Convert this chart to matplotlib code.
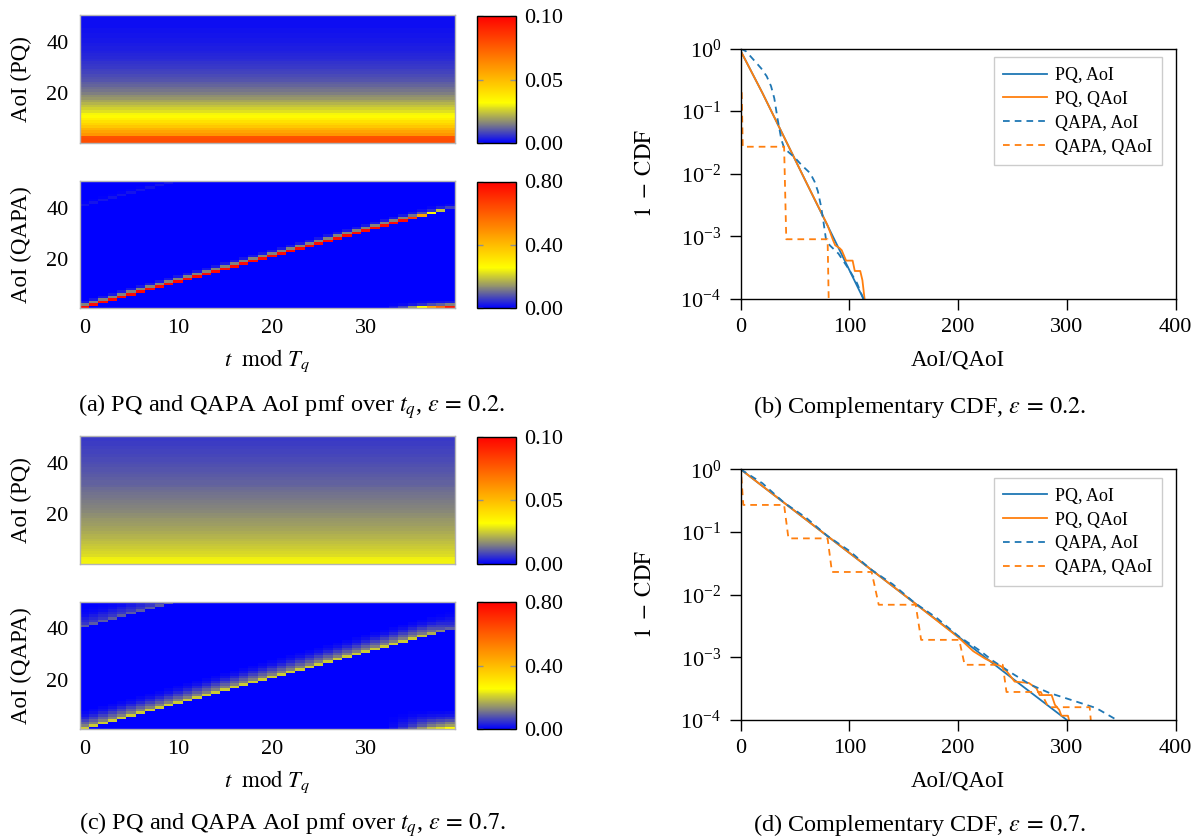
import numpy as np
import matplotlib
matplotlib.use('Agg')
import matplotlib.pyplot as plt
from matplotlib.colors import LinearSegmentedColormap
from matplotlib.ticker import FixedLocator, NullLocator, FuncFormatter

plt.rcParams['font.family'] = ['Liberation Serif', 'DejaVu Serif']
plt.rcParams['mathtext.fontset'] = 'stix'

# ---------------- data ----------------
tq = np.arange(40)          # t mod T_q
aoi = np.arange(1, 51)      # AoI values

# PQ AoI pmf (same for every t_q)
pq_pmf_eps02 = [0.079, 0.079, 0.078, 0.060, 0.056, 0.052, 0.047, 0.043, 0.040, 0.036,
                0.033, 0.031, 0.028, 0.026, 0.024, 0.022, 0.020, 0.018, 0.017, 0.015,
                0.014, 0.013, 0.012, 0.011, 0.010, 0.0095, 0.0088, 0.0081, 0.0075, 0.0069,
                0.0064, 0.0059, 0.0054, 0.0050, 0.0046, 0.0042, 0.0039, 0.0036, 0.0033, 0.0031,
                0.0028, 0.0026, 0.0024, 0.0022, 0.0020, 0.0019, 0.0017, 0.0016, 0.0015, 0.0014]
pq_pmf_eps07 = [0.0305, 0.0303, 0.0300, 0.0275, 0.0267, 0.0259, 0.0251, 0.0244, 0.0236, 0.0229,
                0.0222, 0.0216, 0.0209, 0.0203, 0.0197, 0.0191, 0.0185, 0.0180, 0.0174, 0.0169,
                0.0164, 0.0159, 0.0154, 0.0150, 0.0145, 0.0141, 0.0137, 0.0133, 0.0129, 0.0125,
                0.0121, 0.0117, 0.0114, 0.0110, 0.0107, 0.0104, 0.0101, 0.0098, 0.0095, 0.0092,
                0.0089, 0.0086, 0.0084, 0.0081, 0.0079, 0.0077, 0.0074, 0.0072, 0.0070, 0.0068]

# QAPA AoI pmf: peak on the diagonal (AoI = t_q + 1), its upward tail,
# the wrapped peak at the top (AoI = t_q + 41) and the new peak at AoI = 1
qapa_peak_eps02 = [0.78, 0.78, 0.78, 0.78, 0.78, 0.78, 0.78, 0.78, 0.78, 0.78,
                   0.78, 0.78, 0.78, 0.78, 0.78, 0.78, 0.78, 0.78, 0.78, 0.78,
                   0.78, 0.78, 0.78, 0.78, 0.78, 0.78, 0.78, 0.78, 0.78, 0.78,
                   0.78, 0.78, 0.78, 0.78, 0.78, 0.68, 0.45, 0.27, 0.19, 0.06]
qapa_high_eps02 = [0.02, 0.02, 0.02, 0.02, 0.02, 0.02, 0.02, 0.02, 0.02, 0.02,
                   0, 0, 0, 0, 0, 0, 0, 0, 0, 0, 0, 0, 0, 0, 0, 0, 0, 0, 0, 0,
                   0, 0, 0, 0, 0, 0, 0, 0, 0, 0]
qapa_low_eps02 = [0, 0, 0, 0, 0, 0, 0, 0, 0, 0, 0, 0, 0, 0, 0, 0, 0, 0, 0, 0,
                  0, 0, 0, 0, 0, 0, 0, 0, 0, 0, 0, 0, 0,
                  0.02, 0.06, 0.15, 0.26, 0.45, 0.58, 0.75]
qapa_tail_eps02 = [1.0, 0.16, 0.03]

qapa_peak_eps07 = [0.20, 0.20, 0.20, 0.20, 0.20, 0.20, 0.20, 0.20, 0.20, 0.20,
                   0.20, 0.20, 0.20, 0.20, 0.20, 0.20, 0.20, 0.20, 0.20, 0.20,
                   0.20, 0.20, 0.20, 0.20, 0.20, 0.20, 0.20, 0.20, 0.20, 0.20,
                   0.20, 0.20, 0.20, 0.20, 0.20, 0.20, 0.19, 0.17, 0.13, 0.09]
qapa_high_eps07 = [0.085, 0.085, 0.085, 0.085, 0.085, 0.085, 0.085, 0.085, 0.085, 0.085,
                   0, 0, 0, 0, 0, 0, 0, 0, 0, 0, 0, 0, 0, 0, 0, 0, 0, 0, 0, 0,
                   0, 0, 0, 0, 0, 0, 0, 0, 0, 0]
qapa_low_eps07 = [0, 0, 0, 0, 0, 0, 0, 0, 0, 0, 0, 0, 0, 0, 0, 0, 0, 0, 0, 0,
                  0, 0, 0, 0, 0, 0, 0, 0, 0, 0, 0, 0, 0,
                  0.02, 0.05, 0.09, 0.14, 0.19, 0.22, 0.26]
qapa_tail_eps07 = [1.0, 0.6, 0.45, 0.3, 0.18, 0.09, 0.04]

# Complementary CDFs, eps = 0.2
pq_aoi_x_02 = [0, 20, 40, 60, 80, 100, 113]
pq_aoi_y_02 = [0.92, 0.196, 0.0384, 0.0075, 0.00148, 0.00029, 0.0001]
pq_qaoi_x_02 = [0, 20, 40, 60, 80, 85, 87, 91, 93, 97, 103, 105, 110, 112, 114]
pq_qaoi_y_02 = [0.92, 0.196, 0.0384, 0.0075, 0.0015, 0.00087, 0.00072, 0.00065, 0.0006,
                0.00041, 0.00041, 0.00028, 0.00028, 0.0002, 0.0001]
qapa_aoi_x_02 = [0, 5, 13, 19, 24, 28, 31, 34, 37.5, 40, 43, 50, 56, 64, 68, 71, 74, 76,
                 78.5, 82, 90, 100, 107, 113]
qapa_aoi_y_02 = [1.0, 0.9, 0.63, 0.48, 0.36, 0.25, 0.16, 0.075, 0.035, 0.026, 0.023, 0.018,
                 0.0138, 0.0102, 0.0075, 0.0053, 0.003, 0.0018, 0.0009, 0.00072, 0.00053,
                 0.00029, 0.00018, 0.0001]
qapa_qaoi_x_02 = [1, 2, 40, 42, 80, 81]
qapa_qaoi_y_02 = [0.2, 0.027, 0.027, 0.0009, 0.0009, 0.0001]

# Complementary CDFs, eps = 0.7
pq_aoi_x_07 = [0, 50, 100, 150, 200, 250, 300]
pq_aoi_y_07 = [1.0, 0.215, 0.0464, 0.01, 0.00215, 0.00046, 0.0001]
pq_qaoi_x_07 = [0, 50, 100, 150, 200, 214, 225, 240, 245, 252, 265, 272, 275, 286, 289,
                293, 295, 301, 302]
pq_qaoi_y_07 = [1.0, 0.215, 0.0464, 0.01, 0.0021, 0.00125, 0.00095, 0.00071, 0.00059,
                0.00041, 0.00039, 0.00032, 0.00025, 0.00025, 0.000175, 0.000145, 0.000117,
                0.000117, 0.0001]
qapa_aoi_x_07 = [0, 20, 40, 60, 80, 100, 120, 140, 160, 180, 200, 220, 232, 250, 266, 284,
                 300, 327, 346]
qapa_aoi_y_07 = [1.0, 0.6, 0.293, 0.17, 0.086, 0.05, 0.0251, 0.0146, 0.0074, 0.0043, 0.0022,
                 0.00128, 0.00088, 0.00055, 0.00037, 0.00027, 0.00022, 0.000155, 0.0001]
qapa_qaoi_x_07 = [0.7, 2.5, 40, 44, 80, 84, 120.5, 127, 161, 166, 201, 206, 241, 244.5, 276,
                  283, 321, 322]
qapa_qaoi_y_07 = [0.76, 0.27, 0.27, 0.079, 0.079, 0.023, 0.023, 0.0069, 0.0069, 0.0019,
                  0.0019, 0.00076, 0.00076, 0.00028, 0.00028, 0.00016, 0.00016, 0.0001]

legend_labels = ['PQ, AoI', 'PQ, QAoI', 'QAPA, AoI', 'QAPA, QAoI']
captions = [r'(a) PQ and QAPA AoI pmf over $t_q$, $\varepsilon\,=\,0.2$.',
            r'(b) Complementary CDF, $\varepsilon\,=\,0.2$.',
            r'(c) PQ and QAPA AoI pmf over $t_q$, $\varepsilon\,=\,0.7$.',
            r'(d) Complementary CDF, $\varepsilon\,=\,0.7$.']


def pq_matrix(pmf):
    col = np.asarray(pmf)[:, None]
    return np.repeat(col, len(tq), axis=1)


def qapa_matrix(peak, high, low, tail):
    Z = np.zeros((len(aoi), len(tq)))
    for t in range(len(tq)):
        for k, f in enumerate(tail):
            r = t + k
            if r < len(aoi):
                Z[r, t] += peak[t] * f
            r = t + 40 + k
            if r < len(aoi):
                Z[r, t] += high[t] * f
            Z[k, t] += low[t] * f
    return Z


# ---------------- style ----------------
W, H = 1196, 839
fig = plt.figure(figsize=(W / 100, H / 100), dpi=100)

def box(x0, y0, x1, y1):
    return [x0 / W, 1 - y1 / H, (x1 - x0) / W, (y1 - y0) / H]

cmap = LinearSegmentedColormap.from_list(
    'bgyr', [(0.0, '#0000ff'), (0.15, '#808080'), (0.32, '#ffff00'), (1.0, '#ff0000')])

BLUE = '#1f77b4'
ORANGE = '#ff7f0e'
FS = 16
LFS = 16.5
CFS = 17.5


def heat(rect, crect, Z, vmax, cticks, ylabel, show_x):
    ax = fig.add_axes(box(*rect))
    m = ax.pcolormesh(tq, aoi, Z, cmap=cmap, vmin=0, vmax=vmax, shading='nearest')
    ax.set_xlim(-0.5, 39.5)
    ax.set_ylim(0.5, 50.5)
    ax.yaxis.set_major_locator(FixedLocator([20, 40]))
    ax.xaxis.set_major_locator(FixedLocator([0, 10, 20, 30]))
    ax.tick_params(length=0, labelsize=FS, pad=8)
    if not show_x:
        ax.set_xticklabels([])
    for s in ax.spines.values():
        s.set_color('#b4b4b4')
        s.set_linewidth(1.0)
    ax.set_ylabel(ylabel, fontsize=LFS)
    ax.yaxis.set_label_coords(-0.128, 0.5)
    cax = fig.add_axes(box(*crect))
    cb = fig.colorbar(m, cax=cax)
    cb.set_ticks(cticks)
    cax.yaxis.set_major_formatter(FuncFormatter(lambda v, p: f'{v:.2f}'))
    cax.tick_params(direction='in', length=4, width=1, color='#909090', left=True,
                    right=True, labelsize=FS, pad=6)
    cb.outline.set_linewidth(1.0)
    cb.outline.set_edgecolor('black')
    return ax


def ccdf(rect, data):
    ax = fig.add_axes(box(*rect))
    styles = [(BLUE, '-'), (ORANGE, '-'), (BLUE, (0, (3.7, 2.8))), (ORANGE, (0, (3.7, 2.8)))]
    for (x, y), (c, ls), lab in zip(data, styles, legend_labels):
        ax.plot(x, y, color=c, linestyle=ls, lw=1.3, label=lab)
    ax.set_yscale('log')
    ax.set_xlim(0, 400)
    ax.set_ylim(1e-4, 1)
    ax.xaxis.set_major_locator(FixedLocator([0, 100, 200, 300, 400]))
    ax.yaxis.set_major_locator(FixedLocator([1e-4, 1e-3, 1e-2, 1e-1, 1]))
    ax.yaxis.set_minor_locator(NullLocator())
    ax.tick_params(direction='out', length=8, width=1, labelsize=FS, pad=6)
    for s in ax.spines.values():
        s.set_linewidth(1.0)
    ax.set_ylabel(r'$1\;-\;\mathrm{CDF}$', fontsize=LFS)
    ax.yaxis.set_label_coords(-0.195, 0.5)
    ax.set_xlabel('AoI/QAoI', fontsize=LFS)
    ax.xaxis.set_label_coords(0.5, -0.2)
    leg = ax.legend(loc='upper right', bbox_to_anchor=(0.969, 0.966), fontsize=13,
                    fancybox=False, edgecolor='#cccccc', framealpha=1, borderaxespad=0,
                    handlelength=2.4, labelspacing=0.38, borderpad=0.55, handletextpad=0.45)
    leg.get_frame().set_linewidth(1.0)
    return ax


# (a)
heat((79.6, 15, 454.7, 143.3), (477.3, 16, 515.7, 143.3), pq_matrix(pq_pmf_eps02), 0.10,
     [0, 0.05, 0.10], 'AoI (PQ)', False)
axa = heat((79.6, 181, 454.7, 308.3), (477.3, 181.5, 515.7, 308.3),
           qapa_matrix(qapa_peak_eps02, qapa_high_eps02, qapa_low_eps02, qapa_tail_eps02),
           0.80, [0, 0.40, 0.80], 'AoI (QAPA)', True)
axa.set_xlabel(r'$t\ \ \mathrm{mod}\ T_q$', fontsize=LFS)
axa.xaxis.set_label_coords(0.5, -0.31)

# (c)
heat((79.6, 436, 454.7, 564.3), (477.3, 436.5, 515.7, 564.3), pq_matrix(pq_pmf_eps07), 0.10,
     [0, 0.05, 0.10], 'AoI (PQ)', False)
axc = heat((79.6, 601.7, 454.7, 729.3), (477.3, 602, 515.7, 729.3),
           qapa_matrix(qapa_peak_eps07, qapa_high_eps07, qapa_low_eps07, qapa_tail_eps07),
           0.80, [0, 0.40, 0.80], 'AoI (QAPA)', True)
axc.set_xlabel(r'$t\ \ \mathrm{mod}\ T_q$', fontsize=LFS)
axc.xaxis.set_label_coords(0.5, -0.31)

# (b)
ccdf((740.6, 48.5, 1175.6, 299),
     [(pq_aoi_x_02, pq_aoi_y_02), (pq_qaoi_x_02, pq_qaoi_y_02),
      (qapa_aoi_x_02, qapa_aoi_y_02), (qapa_qaoi_x_02, qapa_qaoi_y_02)])
# (d)
ccdf((740.6, 469.3, 1175.6, 720),
     [(pq_aoi_x_07, pq_aoi_y_07), (pq_qaoi_x_07, pq_qaoi_y_07),
      (qapa_aoi_x_07, qapa_aoi_y_07), (qapa_qaoi_x_07, qapa_qaoi_y_07)])

# captions
for (cx, cy), txt in zip([(291, 406.5), (919, 406.5), (292, 824.5), (919, 824.5)], captions):
    fig.text(cx / W, 1 - cy / H, txt, ha='center', va='center', fontsize=CFS)

fig.savefig('out.png', dpi=100)
